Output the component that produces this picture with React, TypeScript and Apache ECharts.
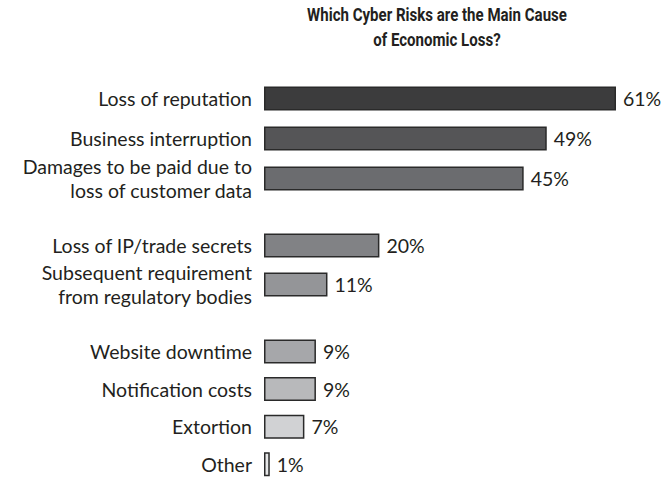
import React, { useEffect, useRef } from "react";
import * as echarts from "echarts";

const titleText = "Which Cyber Risks are the Main Cause\nof Economic Loss?";

const categories = [
  "Loss of reputation",
  "Business interruption",
  "Damages to be paid due to\nloss of customer data",
  "Loss of IP/trade secrets",
  "Subsequent requirement\nfrom regulatory bodies",
  "Website downtime",
  "Notification costs",
  "Extortion",
  "Other",
];

const values = [61, 49, 45, 20, 11, 9, 9, 7, 1];

const groupSizes = [3, 2, 4];

const barColors = [
  "#3c3c3d",
  "#555557",
  "#6b6c6f",
  "#818285",
  "#949598",
  "#a6a7aa",
  "#b8b9bb",
  "#d1d2d4",
  "#e6e7e8",
];

// layout of each group's grid (top, height) in px
const groupLayout = [
  { top: 78.5, height: 120 },
  { top: 226, height: 78 },
  { top: 332.75, height: 158 },
];

const TEXT = "#231f20";
const LABEL_FONT = "Lato, sans-serif";

export default function App() {
  const ref = useRef<HTMLDivElement>(null);

  useEffect(() => {
    if (!ref.current) return;
    const chart = echarts.init(ref.current, undefined, { renderer: "svg" });

    const grids: any[] = [];
    const xAxes: any[] = [];
    const yAxes: any[] = [];
    const series: any[] = [];
    let start = 0;
    groupSizes.forEach((n, gi) => {
      const cats = categories.slice(start, start + n);
      const vals = values.slice(start, start + n);
      const cols = barColors.slice(start, start + n);
      grids.push({
        left: 264,
        width: 352,
        top: groupLayout[gi].top,
        height: groupLayout[gi].height,
        containLabel: false,
      });
      xAxes.push({
        type: "value",
        gridIndex: gi,
        min: 0,
        max: 61,
        show: false,
      });
      yAxes.push({
        type: "category",
        gridIndex: gi,
        data: cats,
        inverse: true,
        axisLine: { show: false },
        axisTick: { show: false },
        splitLine: { show: false },
        axisLabel: {
          margin: 12,
          color: TEXT,
          fontSize: 19.5,
          fontFamily: LABEL_FONT,
          lineHeight: 23.5,
          align: "right",
        },
      });
      series.push({
        type: "bar",
        xAxisIndex: gi,
        yAxisIndex: gi,
        barWidth: 24,
        data: vals.map((v, i) => ({
          value: v,
          itemStyle: {
            color: cols[i],
            borderColor: "#2a2a2a",
            borderWidth: 1.5,
          },
        })),
        label: {
          show: true,
          position: "right",
          distance: 7,
          formatter: "{c}%",
          color: TEXT,
          fontSize: 19.5,
          fontFamily: LABEL_FONT,
        },
      });
      start += n;
    });

    chart.setOption({
      animation: false,
      backgroundColor: "#ffffff",
      graphic: [
        {
          type: "text",
          x: 437,
          y: 3,
          scaleX: 0.86,
          style: {
            text: titleText,
            textAlign: "center",
            textVerticalAlign: "top",
            fill: TEXT,
            font: "bold 17.5px Roboto, sans-serif",
            lineHeight: 25,
          },
        },
      ],
      grid: grids,
      xAxis: xAxes,
      yAxis: yAxes,
      series,
    });

    return () => chart.dispose();
  }, []);

  return (
    <div
      ref={ref}
      style={{ position: "fixed", left: 0, top: 0, width: 665, height: 483 }}
    />
  );
}
